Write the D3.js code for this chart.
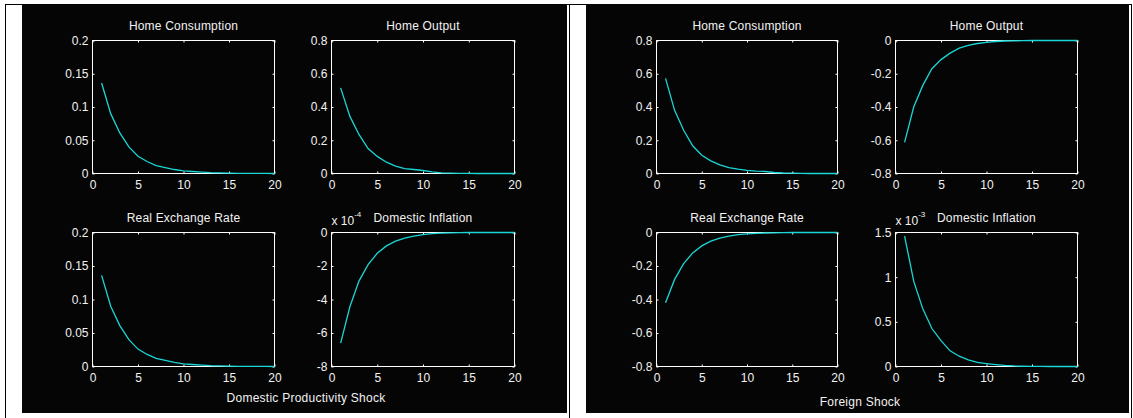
<!DOCTYPE html>
<html>
<head>
<meta charset="utf-8">
<script src="https://cdn.jsdelivr.net/npm/d3@7"></script>
<style>
  html, body { margin: 0; padding: 0; background: #ffffff; }
  svg { display: block; font-family: "Liberation Sans", Arial, sans-serif; }
</style>
</head>
<body>
<svg id="chart" width="1133" height="418"></svg>
<script>
// Impulse responses over 20 periods
const periods = [1, 2, 3, 4, 5, 6, 7, 8, 9, 10, 11, 12, 13, 14, 15, 16, 17, 18, 19, 20];

// Domestic productivity shock
const prodConsumption = [0.136, 0.090, 0.061, 0.040, 0.026, 0.018, 0.012, 0.009, 0.006, 0.004, 0.003, 0.002, 0.0012, 0.0008, 0.0005, 0.0003, 0.0002, 0.0001, 0.0001, 0];
const prodOutput      = [0.515, 0.345, 0.235, 0.150, 0.103, 0.068, 0.045, 0.029, 0.024, 0.018, 0.010, 0.004, 0.002, 0.001, 0.001, 0, 0, 0, 0, 0];
const prodExchange    = [0.136, 0.090, 0.061, 0.040, 0.026, 0.018, 0.012, 0.009, 0.006, 0.004, 0.003, 0.002, 0.0012, 0.0008, 0.0005, 0.0003, 0.0002, 0.0001, 0.0001, 0];
const prodInflation   = [-6.6, -4.45, -2.9, -1.92, -1.24, -0.80, -0.52, -0.34, -0.22, -0.13, -0.07, -0.04, -0.02, -0.01, 0, 0, 0, 0, 0, 0]; // x 10^-4

// Foreign shock
const forConsumption  = [0.572, 0.380, 0.260, 0.167, 0.110, 0.076, 0.052, 0.036, 0.026, 0.019, 0.014, 0.012, 0.006, 0.003, 0.002, 0.001, 0, 0, 0, 0];
const forOutput       = [-0.613, -0.400, -0.270, -0.170, -0.115, -0.076, -0.046, -0.030, -0.018, -0.011, -0.006, -0.003, -0.002, -0.001, 0, 0, 0, 0, 0, 0];
const forExchange     = [-0.420, -0.280, -0.186, -0.122, -0.080, -0.052, -0.033, -0.021, -0.013, -0.008, -0.005, -0.003, -0.002, -0.001, 0, 0, 0, 0, 0, 0];
const forInflation    = [1.46, 0.955, 0.645, 0.425, 0.290, 0.175, 0.115, 0.075, 0.045, 0.032, 0.021, 0.012, 0.006, 0.003, 0.002, 0.001, 0, 0, 0, 0]; // x 10^-3

// Tick values
const xTicks      = [0, 5, 10, 15, 20];
const ticksSmall  = [0, 0.05, 0.1, 0.15, 0.2];
const ticksPos08  = [0, 0.2, 0.4, 0.6, 0.8];
const ticksNeg08  = [-0.8, -0.6, -0.4, -0.2, 0];
const ticksNeg8   = [-8, -6, -4, -2, 0];
const ticksPos15  = [0, 0.5, 1, 1.5];

const shockNames = ["Domestic Productivity Shock", "Foreign Shock"];

// Layout of the two figure blocks and the 2x2 grid inside each
const blocks = [
  { x: 22,  y: 5, w: 545, h: 408, caption: shockNames[0], cx: 306, cy: 402 },
  { x: 586, y: 4, w: 543, h: 409, caption: shockNames[1], cx: 860, cy: 406 }
];
const colX = [[92.5, 274.5], [331.5, 514.5], [656.5, 837.5], [895.5, 1077.5]];
const rowY = [[40.5, 173.5], [232.5, 366.5]];

const plots = [
  { title: "Home Consumption",   values: prodConsumption, domain: [0, 0.2],  ticks: ticksSmall, col: 0, row: 0 },
  { title: "Home Output",        values: prodOutput,      domain: [0, 0.8],  ticks: ticksPos08, col: 1, row: 0 },
  { title: "Real Exchange Rate", values: prodExchange,    domain: [0, 0.2],  ticks: ticksSmall, col: 0, row: 1 },
  { title: "Domestic Inflation", values: prodInflation,   domain: [-8, 0],   ticks: ticksNeg8,  col: 1, row: 1, exp: "-4" },
  { title: "Home Consumption",   values: forConsumption,  domain: [0, 0.8],  ticks: ticksPos08, col: 2, row: 0 },
  { title: "Home Output",        values: forOutput,       domain: [-0.8, 0], ticks: ticksNeg08, col: 3, row: 0 },
  { title: "Real Exchange Rate", values: forExchange,     domain: [-0.8, 0], ticks: ticksNeg08, col: 2, row: 1 },
  { title: "Domestic Inflation", values: forInflation,    domain: [0, 1.5],  ticks: ticksPos15, col: 3, row: 1, exp: "-3" }
];

const TEXT = "#f2f2f2";
const LINE = "#1ad6d6";
const svg = d3.select("#chart");

// Table frame around the two figures
const frame = svg.append("g").attr("stroke", "#000").attr("stroke-width", 1).attr("fill", "none");
frame.append("line").attr("x1", 5).attr("x2", 1132).attr("y1", 4.5).attr("y2", 4.5);
[5.5, 569.5, 1131.5].forEach(x =>
  frame.append("line").attr("x1", x).attr("x2", x).attr("y1", 4).attr("y2", 418));

// Black figure backgrounds and captions
blocks.forEach(b => {
  svg.append("rect").attr("x", b.x).attr("y", b.y).attr("width", b.w).attr("height", b.h).attr("fill", "#050505");
  svg.append("text").attr("x", b.cx).attr("y", b.cy)
    .attr("text-anchor", "middle").attr("font-size", 12).attr("letter-spacing", 0.25)
    .attr("fill", TEXT).text(b.caption);
});

const fmt = d => String(Math.round(d * 1000) / 1000);

plots.forEach(p => {
  const [x0, x1] = colX[p.col];
  const [y0, y1] = rowY[p.row];
  const x = d3.scaleLinear().domain([0, 20]).range([x0, x1]);
  const y = d3.scaleLinear().domain(p.domain).range([y1, y0]);
  const g = svg.append("g");

  const style = sel => {
    sel.select(".domain").remove();
    sel.attr("font-family", null).attr("font-size", 12);
    sel.selectAll(".tick line").attr("stroke", "#ffffff");
    sel.selectAll(".tick text").attr("fill", TEXT);
  };

  g.append("g").attr("transform", `translate(0,${y1})`)
    .call(d3.axisBottom(x).tickValues(xTicks).tickSize(-2).tickSizeOuter(0).tickPadding(7))
    .call(style);
  g.append("g").attr("transform", `translate(0,${y0})`)
    .call(d3.axisTop(x).tickValues(xTicks).tickSize(-2).tickSizeOuter(0).tickFormat(""))
    .call(style);
  g.append("g").attr("transform", `translate(${x0},0)`)
    .call(d3.axisLeft(y).tickValues(p.ticks).tickSize(-2).tickSizeOuter(0).tickPadding(4).tickFormat(fmt))
    .call(style);
  g.append("g").attr("transform", `translate(${x1},0)`)
    .call(d3.axisRight(y).tickValues(p.ticks).tickSize(-2).tickSizeOuter(0).tickFormat(""))
    .call(style);

  // Axes box
  g.append("rect").attr("x", x0).attr("y", y0).attr("width", x1 - x0).attr("height", y1 - y0)
    .attr("fill", "none").attr("stroke", "#ffffff").attr("stroke-width", 1);

  // Response path
  const pts = periods.map((t, i) => ({ t, v: p.values[i] }));
  g.append("path").datum(pts)
    .attr("fill", "none").attr("stroke", LINE).attr("stroke-width", 1.3)
    .attr("d", d3.line().x(d => x(d.t)).y(d => y(d.v)));

  // Title
  g.append("text").attr("x", (x0 + x1) / 2).attr("y", y0 - 11)
    .attr("text-anchor", "middle").attr("font-size", 12).attr("letter-spacing", 0.2)
    .attr("fill", TEXT).text(p.title);

  // Scale factor for the y axis
  if (p.exp) {
    const t = g.append("text").attr("x", x0).attr("y", y0 - 7.5)
      .attr("font-size", 12).attr("fill", TEXT);
    t.append("tspan").text("x 10");
    t.append("tspan").attr("dy", -8).attr("font-size", 8).text(p.exp);
  }
});
</script>
</body>
</html>
